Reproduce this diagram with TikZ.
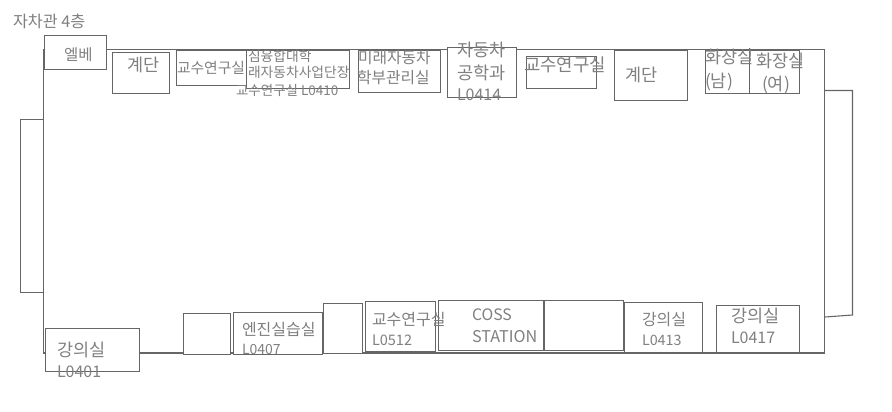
\documentclass[tikz,border=0pt]{standalone}
\usepackage{fontspec}
\setmainfont{Noto Sans CJK KR}[Scale=1]
\definecolor{wallc}{HTML}{666666}
\definecolor{textc}{HTML}{808080}
\tikzset{
  wall/.style={draw=wallc,line width=1.1pt},
  room/.style={draw=wallc,line width=1.1pt,fill=white},
  lbl/.style={text=textc,anchor=west,inner sep=0pt,outer sep=0pt,font=\fontsize{#1}{#1}\selectfont},
  lbl/.default=14
}
\begin{document}
\begin{tikzpicture}[x=1pt,y=-1pt]
\useasboundingbox (0,0) rectangle (892,412);
\fill[white] (0,0) rectangle (892,412);
% outline and annexes
\draw[wall] (43.5,49.5) rectangle (824.5,353);
\draw[wall] (43.5,119.5) -- (20.5,119.5) -- (20.5,292.5) -- (43.5,292.5);
\draw[wall] (825,90.5) -- (852.5,90.5) -- (852.5,315) -- (825,317);
% top rooms
\draw[room] (44.5,35.5) rectangle (106.5,69.5);
\draw[room] (112.5,52.5) rectangle (169.5,93.5);
\draw[room] (176.5,50.5) rectangle (246.5,85.5);
\draw[room] (246.5,50.5) rectangle (349.5,88.5);
\draw[room] (358.5,50.5) rectangle (440.5,92.5);
\draw[room] (447.5,47.5) rectangle (516.5,97.5);
\draw[room] (526.5,56.5) rectangle (596.5,88.5);
\draw[room] (614.5,50.5) rectangle (687.5,100.5);
\draw[room] (705.5,50.5) rectangle (799.5,93.5);
\draw[wall] (749.5,48.5) -- (749.5,94.5);
% bottom rooms
\draw[room] (45.5,328.5) rectangle (139.5,371.5);
\draw[room] (183.5,313.5) rectangle (230.5,354.5);
\draw[room] (233.5,312.5) rectangle (322.5,354.5);
\draw[room] (323.5,303.5) rectangle (362.5,353.5);
\draw[room] (365.5,301.5) rectangle (435.5,351.5);
\draw[room] (438.5,300.5) rectangle (544,350.5);
\draw[room] (544,300.5) rectangle (623.5,350.5);
\draw[room] (624.5,302.5) rectangle (702.5,352.5);
\draw[room] (716.5,305.5) rectangle (799.5,352.5);
% labels
\node[lbl=16.2] (t0) at (13,21) {자차관 4층};
\node[lbl=15.5] (t1) at (64,54.5) {엘베};
\node[lbl=17.5] (t2) at (127,65) {계단};
\node[lbl=14.8] (t3) at (177,67.5) {교수연구실};
\node[lbl=13.8] (t4) at (248,56.5) {심융합대학};
\node[lbl=13.8] (t5) at (248,72.5) {래자동차사업단장};
\node[lbl=13.5] (t6) at (236,90.5) {교수연구실 L0410};
\node[lbl=15.8] (t7) at (358,57.5) {미래자동차};
\node[lbl=15.8] (t8) at (357,77.5) {학부관리실};
\node[lbl=17.5] (t9) at (457,49.5) {자동차};
\node[lbl=17.5] (t10) at (457,72.5) {공학과};
\node[lbl=16] (t11) at (457,95) {L0414};
\node[lbl=17.8] (t12) at (524,64.5) {교수연구실};
\node[lbl=17.5] (t13) at (625,75) {계단};
\node[lbl=17.5] (t14) at (705,56.5) {화장실};
\node[lbl=17.5] (t15) at (705,81.5) {(남)};
\node[lbl=17.5] (t16) at (756,60.5) {화장실};
\node[lbl=17.5] (t17) at (762,84.5) {(여)};
\node[lbl=17.5] (t18) at (57,349.5) {강의실};
\node[lbl=16] (t19) at (57,372) {L0401};
\node[lbl=16] (t20) at (242,329.5) {엔진실습실};
\node[lbl=14] (t21) at (242,349) {L0407};
\node[lbl=16] (t22) at (372,319.5) {교수연구실};
\node[lbl=14.5] (t23) at (372,340) {L0512};
\node[lbl=15.8] (t24) at (472,315) {COSS};
\node[lbl=16.2] (t25) at (472,337) {STATION};
\node[lbl=16] (t26) at (642,319.5) {강의실};
\node[lbl=14.3] (t27) at (642,340) {L0413};
\node[lbl=17.5] (t28) at (731,315.5) {강의실};
\node[lbl=16] (t29) at (731,338) {L0417};
\end{tikzpicture}
\end{document}
